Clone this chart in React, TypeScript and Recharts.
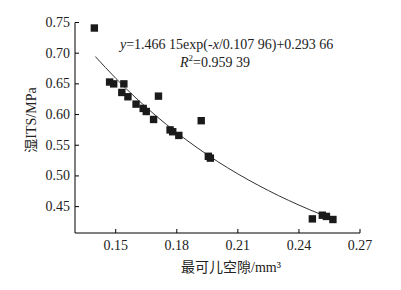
import React from 'react';
import { ComposedChart, Scatter, Line, XAxis, YAxis } from 'recharts';

// measured points: optimum Kerr void (mm3) vs wet ITS (MPa)
const voidSize = [
  0.1395, 0.147, 0.149, 0.154, 0.153, 0.156, 0.160, 0.1635, 0.165, 0.1686, 0.171,
  0.1767, 0.178, 0.181, 0.192, 0.1955, 0.1965, 0.2466, 0.2515, 0.2535, 0.2567,
];
const wetIts = [
  0.741, 0.653, 0.650, 0.650, 0.636, 0.629, 0.617, 0.610, 0.605, 0.592, 0.630,
  0.575, 0.572, 0.566, 0.590, 0.532, 0.529, 0.430, 0.436, 0.434, 0.429,
];

// fitted curve
const fitX = [0.14, 0.15, 0.16, 0.17, 0.18, 0.19, 0.2, 0.21, 0.22, 0.23, 0.24, 0.25];
const fitY = [0.6945, 0.6591, 0.6268, 0.5973, 0.5705, 0.546, 0.5236, 0.5033, 0.4848, 0.4679, 0.4525, 0.4384];

const xMajor = [0.15, 0.18, 0.21, 0.24, 0.27];
const xMinor = [0.135, 0.165, 0.195, 0.225, 0.255];
const yMajor = [0.45, 0.5, 0.55, 0.6, 0.65, 0.7, 0.75];
const yMinor = [0.425, 0.475, 0.525, 0.575, 0.625, 0.675, 0.725];

const points = voidSize.map((x, i) => ({ x, y: wetIts[i] }));
const fit = fitX.map((x, i) => ({ x, y: fitY[i] }));

const font = '"Liberation Serif", "Noto Sans CJK SC", serif';
const isIn = (arr: number[], v: number) => arr.some(m => Math.abs(m - v) < 1e-6);

const XTick = (props: any) => {
  const { x, y, payload } = props;
  const major = isIn(xMajor, payload.value);
  return (
    <g>
      <line x1={x} x2={x} y1={y} y2={y - (major ? 4 : 2)} stroke="#000" />
      {major && (
        <text x={x} y={y + 17} textAnchor="middle" fontSize={14} fontFamily={font} fill="#222">
          {payload.value.toFixed(2)}
        </text>
      )}
    </g>
  );
};

const YTick = (props: any) => {
  const { x, y, payload } = props;
  const major = isIn(yMajor, payload.value);
  return (
    <g>
      <line x1={x} x2={x + (major ? 4 : 2)} y1={y} y2={y} stroke="#000" />
      {major && (
        <text x={x - 5} y={y} textAnchor="end" dominantBaseline="central" fontSize={14} fontFamily={font} fill="#222">
          {payload.value.toFixed(2)}
        </text>
      )}
    </g>
  );
};

const Square = (props: any) => {
  const { cx, cy } = props;
  return <rect x={cx - 3.7} y={cy - 3.7} width={7.4} height={7.4} fill="#1a1a1a" />;
};

export default function App() {
  return (
    <div style={{ position: 'absolute', left: 0, top: 0, width: 401, height: 290, background: '#fff' }}>
      <ComposedChart width={401} height={290} margin={{ top: 22.5, right: 41, bottom: 27, left: 0 }}>
        <XAxis
          type="number"
          dataKey="x"
          domain={[0.13, 0.27]}
          ticks={[...xMinor, ...xMajor].sort()}
          tick={<XTick />}
          tickLine={false}
          tickSize={0}
          tickMargin={0}
          height={30}
          axisLine={{ stroke: '#000' }}
          allowDataOverflow
        />
        <YAxis
          type="number"
          dataKey="y"
          domain={[0.407, 0.75]}
          ticks={[...yMinor, ...yMajor].sort()}
          tick={<YTick />}
          tickLine={false}
          tickSize={0}
          tickMargin={0}
          width={75}
          axisLine={{ stroke: '#000' }}
          allowDataOverflow
        />
        <Line data={fit} dataKey="y" type="monotone" stroke="#333" strokeWidth={1} dot={false} isAnimationActive={false} />
        <Scatter data={points} dataKey="y" shape={<Square />} isAnimationActive={false} />
      </ComposedChart>
      <svg width={401} height={290} style={{ position: 'absolute', left: 0, top: 0, pointerEvents: 'none' }}>
        <text x={120} y={44} dominantBaseline="central" fontSize={14} fontFamily={font} fill="#222">
          <tspan fontStyle="italic">y</tspan>=1.466 15exp(-<tspan fontStyle="italic">x</tspan>/0.107 96)+0.293 66
        </text>
        <text x={180} y={61.5} dominantBaseline="central" fontSize={14} fontFamily={font} fill="#222">
          <tspan fontStyle="italic">R</tspan>
          <tspan fontSize={9} dy={-4}>2</tspan>
          <tspan dy={4}>=0.959 39</tspan>
        </text>
        <text x={231} y={267} textAnchor="middle" dominantBaseline="central" fontSize={14} fontFamily={font} fill="#222">
          最可儿空隙/mm³
        </text>
        <text
          x={31}
          y={120}
          textAnchor="middle"
          dominantBaseline="central"
          fontSize={14}
          fontFamily={font}
          fill="#222"
          transform="rotate(-90 31 120)"
        >
          湿ITS/MPa
        </text>
      </svg>
    </div>
  );
}
